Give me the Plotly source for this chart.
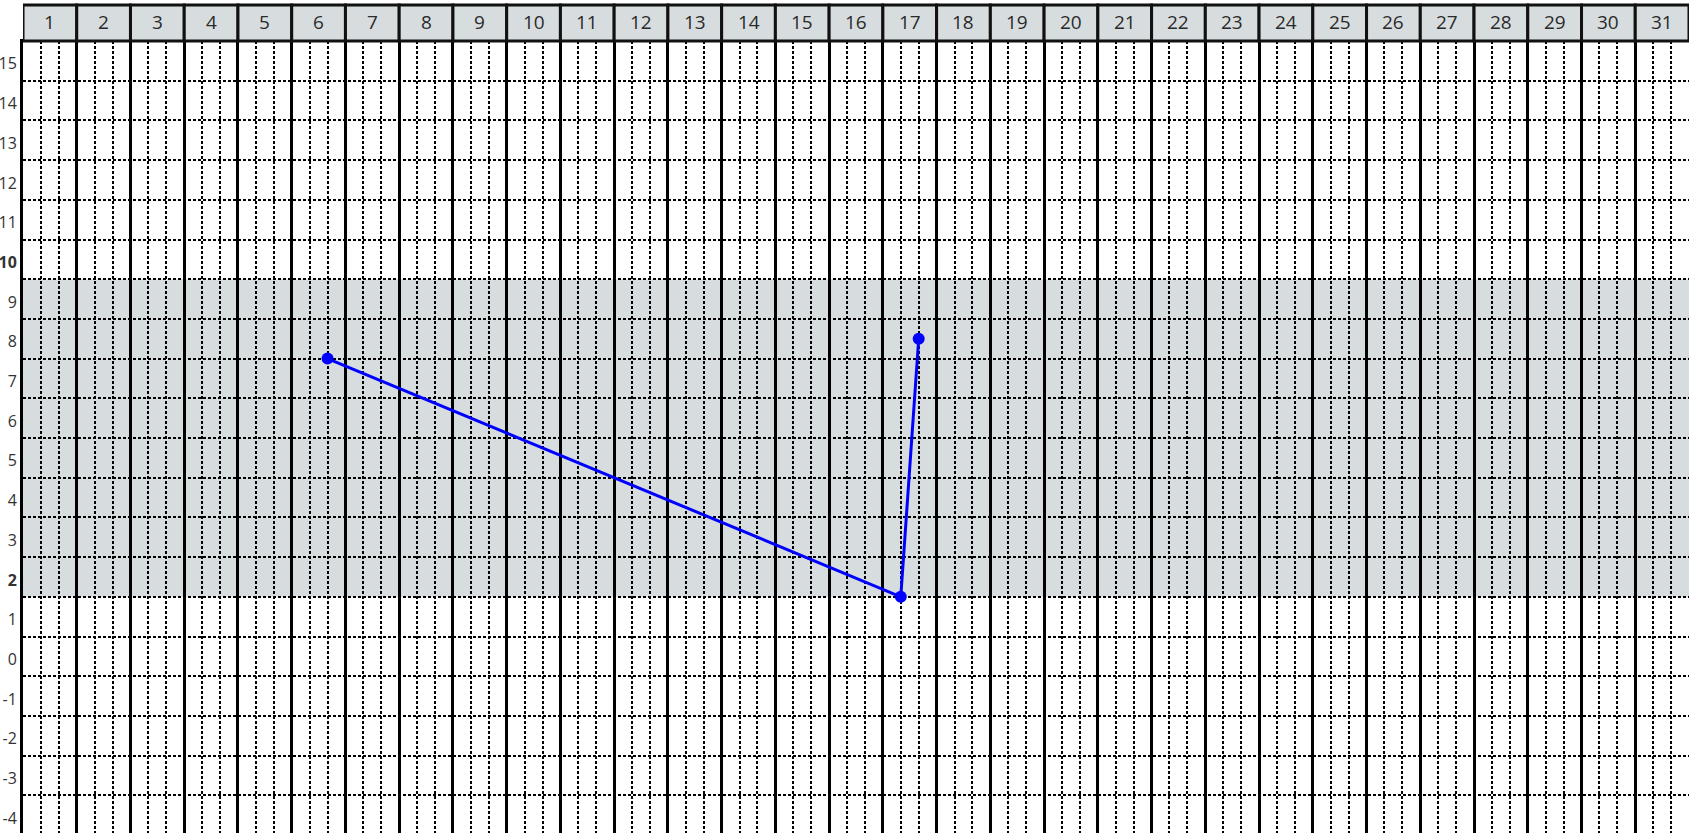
import plotly.graph_objects as go

# ---- data ----
days = list(range(1, 32))
row_values = list(range(-4, 16))
bold_rows = [10, 2]
band_rows = [2, 9]            # shaded rows (inclusive)
point_days = [6, 17, 17]
point_hours = [16, 8, 16]
point_values = [7.5, 1.5, 8]

W, H = 1692, 836
ML, MR, MT, MB = 23, 3, 41, 1
plot_h = H - MT - MB
HDR = 37  # header height in px above the plot area

px_x = [d + h / 24 for d, h in zip(point_days, point_hours)]

fig = go.Figure()
fig.add_trace(go.Scatter(
    x=px_x, y=point_values, mode="lines+markers",
    line=dict(color="#0000ff", width=3),
    marker=dict(color="#0000ff", size=12),
    showlegend=False, hoverinfo="skip", cliponaxis=False,
))

shapes = []
# shaded band
shapes.append(dict(type="rect", xref="paper", yref="y", x0=0, x1=1,
                   y0=band_rows[0] - 0.5, y1=band_rows[1] + 0.5,
                   fillcolor="#d7dddf", line=dict(width=0), layer="below"))

# header boxes
hdr_top = 1 + (HDR - 1) / plot_h
annotations = []
for d in days:
    shapes.append(dict(type="rect", xref="x", yref="paper", x0=d, x1=d + 1,
                       y0=1.0, y1=hdr_top, fillcolor="#d7dddf",
                       line=dict(color="#111111", width=3), layer="above"))
    annotations.append(dict(x=d + 0.5, y=1 + (HDR / 2) / plot_h, xref="x", yref="paper",
                            xanchor="center", yanchor="middle",
                            text=str(d), showarrow=False,
                            font=dict(size=19, color="#2a2a2a")))

ticktext = [f"<b>{v}</b>" if v in bold_rows else str(v) for v in row_values]

fig.update_layout(
    width=W, height=H,
    margin=dict(l=ML, r=MR, t=MT, b=MB, autoexpand=False),
    paper_bgcolor="white", plot_bgcolor="white",
    font=dict(family="Open Sans", size=16, color="#333333"),
    shapes=shapes, annotations=annotations,
    xaxis=dict(
        range=[1, 32], showticklabels=False, ticks="", zeroline=False,
        automargin=False,
        tick0=1, dtick=1, showgrid=True, gridcolor="#000000", gridwidth=2.5,
        minor=dict(tick0=1, dtick=1 / 3, showgrid=True, gridcolor="#000000",
                   gridwidth=2, griddash="3px,2px"),
        showline=True, linecolor="#000000", linewidth=2, mirror=True,
    ),
    yaxis=dict(
        range=[-4.5, 15.5], tickvals=row_values, ticktext=ticktext,
        ticks="", showgrid=False, zeroline=False, automargin=False,
        ticklabelstandoff=0, ticklabelshift=3,
        tickfont=dict(size=16, color="#333333"),
        minor=dict(tick0=0.5, dtick=1, showgrid=True, gridcolor="#000000",
                   gridwidth=2, griddash="3px,2px"),
        showline=True, linecolor="#000000", linewidth=3,
    ),
)

fig.write_html(
    "out.html",
    config={"displayModeBar": False},
    post_script="document.body.style.margin='0';document.body.style.overflow='hidden';",
)
